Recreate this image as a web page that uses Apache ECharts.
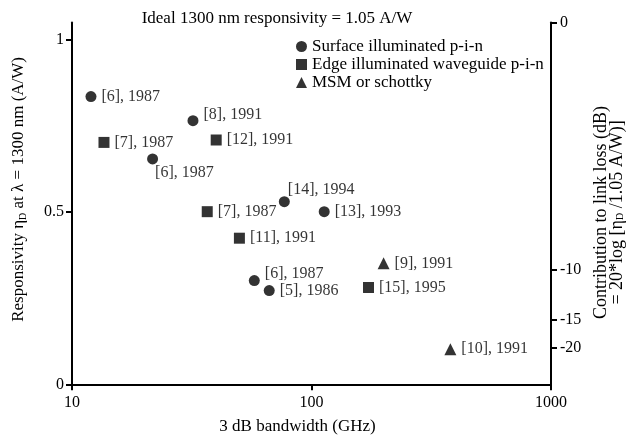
<!DOCTYPE html>
<html>
<head>
<meta charset="utf-8">
<script src="https://cdn.jsdelivr.net/npm/echarts@6/dist/echarts.min.js"></script>
<style>
  html, body { margin: 0; padding: 0; background: #fff; }
  #chart { width: 626px; height: 439px; }
</style>
</head>
<body>
<div id="chart"></div>
<script>
  // 数据 (3 dB bandwidth GHz, responsivity A/W)
  const surfBW = [12, 32, 21.7, 77, 113, 57.7, 66.6];
  const surfResp = [0.835, 0.765, 0.654, 0.53, 0.501, 0.301, 0.272];
  const surfRefs = ['[6], 1987', '[8], 1991', '[6], 1987', '[14], 1994', '[13], 1993', '[6], 1987', '[5], 1986'];

  const edgeBW = [13.6, 40, 36.7, 50, 173];
  const edgeResp = [0.702, 0.709, 0.501, 0.424, 0.281];
  const edgeRefs = ['[7], 1987', '[12], 1991', '[7], 1987', '[11], 1991', '[15], 1995'];

  const msmBW = [200, 380];
  const msmResp = [0.351, 0.102];
  const msmRefs = ['[9], 1991', '[10], 1991'];

  const leftTicks = [0, 0.5, 1];
  const dbTicks = [0, -10, -15, -20];
  const idealResp = 1.05;

  const seriesNames = ['Surface illuminated p-i-n', 'Edge illuminated waveguide p-i-n', 'MSM or schottky'];

  const FONT = 'Liberation Serif';
  const black = '#000';

  // label offsets for a few points
  const surfOffsets = { 1: [0, -6], 2: [-8, 14], 3: [-7, -12], 5: [0, -7] };

  function build(bw, resp, refs, offsets) {
    return bw.map((x, i) => {
      const item = { value: [x, resp[i]], label: { formatter: refs[i] } };
      if (offsets && offsets[i]) item.label.offset = offsets[i];
      return item;
    });
  }

  const labelStyle = {
    show: true,
    position: 'right',
    distance: 5,
    color: black,
    fontFamily: FONT,
    fontSize: 16
  };

  const subStyle = { fontFamily: FONT, fontSize: 10, color: black, verticalAlign: 'bottom', padding: [8, 0, 0, 0] };

  const dbPos = dbTicks.map(d => idealResp * Math.pow(10, d / 20));

  let myChart = echarts.init(document.getElementById('chart'));
  let option = {
    backgroundColor: '#fff',
    animation: false,
    textStyle: { fontFamily: FONT, color: black },
    title: {
      text: 'Ideal 1300 nm responsivity = 1.05 A/W',
      left: 272,
      top: 5,
      textAlign: 'center',
      textStyle: { fontFamily: FONT, fontSize: 17, fontWeight: 'normal', color: black }
    },
    legend: {
      orient: 'vertical',
      left: 291,
      top: 33,
      itemWidth: 11,
      itemHeight: 11,
      itemGap: 1,
      textStyle: { fontFamily: FONT, fontSize: 17, color: black },
      data: seriesNames
    },
    grid: { left: 72, right: 75, top: 22.5, bottom: 54.7, containLabel: false, outerBoundsMode: 'none' },
    xAxis: {
      type: 'log',
      logBase: 10,
      min: 10,
      max: 1000,
      name: '3 dB bandwidth (GHz)',
      nameLocation: 'middle',
      nameGap: 34,
      nameTextStyle: { fontFamily: FONT, fontSize: 17, color: black, padding: [0, 28, 0, 0] },
      axisLine: { lineStyle: { color: black, width: 2 } },
      axisTick: { length: 6, lineStyle: { color: black, width: 2 } },
      minorTick: { show: false },
      axisLabel: {
        fontFamily: FONT, fontSize: 16, color: black, margin: 10,
        formatter: v => String(Math.round(v))
      },
      splitLine: { show: false }
    },
    yAxis: [
      {
        type: 'value',
        min: 0,
        max: idealResp,
        position: 'left',
        name: 'Responsivity η{s|D} at λ = 1300 nm (A/W)',
        nameLocation: 'middle',
        nameRotate: 90,
        nameGap: 44,
        nameTextStyle: {
          fontFamily: FONT, fontSize: 17, color: black, padding: [0, 0, 0, 28],
          rich: { s: subStyle }
        },
        axisLine: { show: true, lineStyle: { color: black, width: 2 } },
        axisTick: { show: true, length: 6, customValues: leftTicks, lineStyle: { color: black, width: 2 } },
        axisLabel: { fontFamily: FONT, fontSize: 16, color: black, margin: 8, customValues: leftTicks },
        splitLine: { show: false }
      },
      {
        type: 'value',
        min: 0,
        max: idealResp,
        position: 'right',
        name: 'Contribution to link loss (dB)\n= 20*log [η{s|D} /1.05 A/W)]',
        nameLocation: 'middle',
        nameRotate: 90,
        nameGap: 36,
        nameTextStyle: {
          fontFamily: FONT, fontSize: 18, color: black, lineHeight: 16, padding: [0, 18, 0, 0],
          rich: { s: subStyle }
        },
        axisLine: { show: true, lineStyle: { color: black, width: 2 } },
        axisTick: {
          show: true, length: 6,
          customValues: dbPos,
          lineStyle: { color: black, width: 2 }
        },
        axisLabel: {
          fontFamily: FONT, fontSize: 16, color: black, margin: 9,
          customValues: dbPos,
          formatter: v => String(Math.round(20 * Math.log10(v / idealResp)))
        },
        splitLine: { show: false }
      }
    ],
    series: [
      {
        name: seriesNames[0],
        type: 'scatter',
        symbol: 'circle',
        symbolSize: 11,
        itemStyle: { color: black },
        label: labelStyle,
        data: build(surfBW, surfResp, surfRefs, surfOffsets)
      },
      {
        name: seriesNames[1],
        type: 'scatter',
        symbol: 'rect',
        symbolSize: 11,
        itemStyle: { color: black },
        label: labelStyle,
        data: build(edgeBW, edgeResp, edgeRefs)
      },
      {
        name: seriesNames[2],
        type: 'scatter',
        symbol: 'triangle',
        symbolSize: 12,
        itemStyle: { color: black },
        label: labelStyle,
        data: build(msmBW, msmResp, msmRefs)
      }
    ]
  };
  myChart.setOption(option);
</script>
</body>
</html>
